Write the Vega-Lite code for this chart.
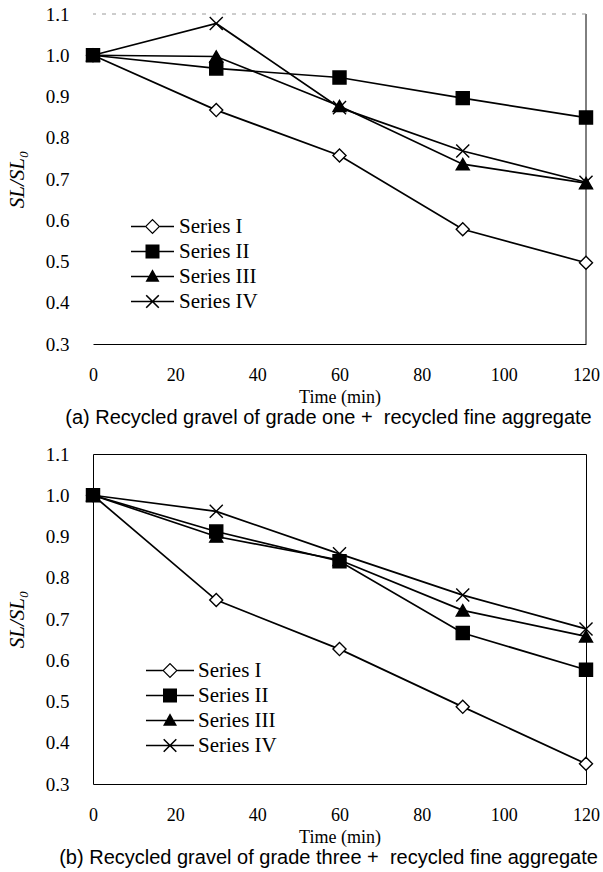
{
  "$schema": "https://vega.github.io/schema/vega-lite/v6.json",
  "background": "white",
  "padding": {"left": 5, "top": 5, "right": 5, "bottom": 5},
  "bounds": "flush",
  "spacing": 110,
  "datasets": {
    "a": [
      {"t": 0, "v": 1.0, "series": "Series I"},
      {"t": 30, "v": 0.867, "series": "Series I"},
      {"t": 60, "v": 0.757, "series": "Series I"},
      {"t": 90, "v": 0.578, "series": "Series I"},
      {"t": 120, "v": 0.497, "series": "Series I"},
      {"t": 0, "v": 1.0, "series": "Series II"},
      {"t": 30, "v": 0.968, "series": "Series II"},
      {"t": 60, "v": 0.946, "series": "Series II"},
      {"t": 90, "v": 0.896, "series": "Series II"},
      {"t": 120, "v": 0.849, "series": "Series II"},
      {"t": 0, "v": 1.0, "series": "Series III"},
      {"t": 30, "v": 0.997, "series": "Series III"},
      {"t": 60, "v": 0.877, "series": "Series III"},
      {"t": 90, "v": 0.736, "series": "Series III"},
      {"t": 120, "v": 0.69, "series": "Series III"},
      {"t": 0, "v": 1.0, "series": "Series IV"},
      {"t": 30, "v": 1.077, "series": "Series IV"},
      {"t": 60, "v": 0.873, "series": "Series IV"},
      {"t": 90, "v": 0.768, "series": "Series IV"},
      {"t": 120, "v": 0.692, "series": "Series IV"}
    ],
    "b": [
      {"t": 0, "v": 1.0, "series": "Series I"},
      {"t": 30, "v": 0.746, "series": "Series I"},
      {"t": 60, "v": 0.627, "series": "Series I"},
      {"t": 90, "v": 0.487, "series": "Series I"},
      {"t": 120, "v": 0.349, "series": "Series I"},
      {"t": 0, "v": 1.0, "series": "Series II"},
      {"t": 30, "v": 0.912, "series": "Series II"},
      {"t": 60, "v": 0.84, "series": "Series II"},
      {"t": 90, "v": 0.666, "series": "Series II"},
      {"t": 120, "v": 0.577, "series": "Series II"},
      {"t": 0, "v": 1.0, "series": "Series III"},
      {"t": 30, "v": 0.9, "series": "Series III"},
      {"t": 60, "v": 0.843, "series": "Series III"},
      {"t": 90, "v": 0.721, "series": "Series III"},
      {"t": 120, "v": 0.658, "series": "Series III"},
      {"t": 0, "v": 1.0, "series": "Series IV"},
      {"t": 30, "v": 0.961, "series": "Series IV"},
      {"t": 60, "v": 0.858, "series": "Series IV"},
      {"t": 90, "v": 0.758, "series": "Series IV"},
      {"t": 120, "v": 0.676, "series": "Series IV"}
    ]
  },
  "vconcat": [
    {
      "width": 493,
      "height": 330,
      "view": {"stroke": null},
      "title": {"text": "(a) Recycled gravel of grade one +\u00a0 recycled fine aggregate", "orient": "bottom", "font": "Liberation Sans", "fontSize": 20, "fontWeight": "normal", "color": "black", "offset": 2, "anchor": "middle", "dx": -11},
      "resolve": {"scale": {"shape": "independent", "fill": "independent"}, "legend": {"shape": "independent", "fill": "independent"}},
      "layer": [
        {
          "data": {"values": [{}]},
          "mark": {"type": "rule", "color": "black", "strokeWidth": 1},
          "encoding": {"x": {"datum": 120, "type": "quantitative"}}
        },
        {
          "data": {"values": [{}]},
          "mark": {"type": "rule", "color": "#9a9a9a", "strokeWidth": 1, "strokeDash": [4, 6]},
          "encoding": {"y": {"datum": 1.1, "type": "quantitative"}}
        },
        {
          "data": {"name": "a"},
          "mark": {"type": "line", "color": "black", "strokeWidth": 1.7},
          "encoding": {
            "x": {"field": "t", "type": "quantitative", "scale": {"domain": [0, 120], "nice": false},
              "axis": {"title": "Time (min)", "values": [0, 20, 40, 60, 80, 100, 120], "domain": true, "domainColor": "black", "domainWidth": 1.2}},
            "y": {"field": "v", "type": "quantitative", "scale": {"domain": [0.3, 1.1], "nice": false, "zero": false},
              "axis": {"title": "SL/SL₀", "values": [0.3, 0.4, 0.5, 0.6, 0.7, 0.8, 0.9, 1.0, 1.1], "format": ".1f"}},
            "detail": {"field": "series"}
          }
        },
        {
          "data": {"name": "a"},
          "mark": {"type": "point", "filled": true, "stroke": "black", "strokeWidth": 1.4, "opacity": 1, "size": 170},
          "encoding": {
            "x": {"field": "t", "type": "quantitative"},
            "y": {"field": "v", "type": "quantitative"},
            "shape": {"field": "series", "type": "nominal",
              "scale": {"domain": ["Series I", "Series II", "Series III", "Series IV"], "range": ["diamond", "square", "triangle-up", "M-1,-1L1,1M1,-1L-1,1"]},
              "legend": null},
            "fill": {"field": "series", "type": "nominal",
              "scale": {"domain": ["Series I", "Series II", "Series III", "Series IV"], "range": ["white", "black", "black", "black"]},
              "legend": null}
          }
        },
        {
          "data": {"name": "a"},
          "transform": [{"filter": "false"}],
          "mark": {"type": "point", "filled": true, "color": "black", "opacity": 1},
          "encoding": {
            "shape": {"field": "series", "type": "nominal",
              "scale": {"domain": ["Series I", "Series II", "Series III", "Series IV"],
                "range": [
                  "M-3.07,-0.12L-1.05,-0.12L-1.05,0.12L-3.07,0.12Z M1.05,-0.12L3.07,-0.12L3.07,0.12L1.05,0.12Z M0,-1.1L1.1,0L0,1.1L-1.1,0Z M0,-0.86L-0.86,0L0,0.86L0.86,0Z",
                  "M-3.07,-0.12L3.07,-0.12L3.07,0.12L-3.07,0.12Z M-1,-1L1,-1L1,1L-1,1Z",
                  "M-3.07,-0.12L3.07,-0.12L3.07,0.12L-3.07,0.12Z M0,-1.05L1,0.75L-1,0.75Z",
                  "M-3.07,-0.12L3.07,-0.12L3.07,0.12L-3.07,0.12Z M-0.98,-0.82L-0.82,-0.98L0.98,0.82L0.82,0.98Z M0.82,-0.98L0.98,-0.82L-0.82,0.98L-0.98,0.82Z"
                ]},
              "legend": {"orient": "none", "legendX": 37, "legendY": 202, "title": null, "symbolSize": 196, "symbolOffset": 12, "labelOffset": 16, "rowPadding": 3, "symbolStrokeWidth": 0}}
          }
        }
      ]
    },
    {
      "width": 493,
      "height": 330,
      "view": {"stroke": "black", "strokeWidth": 1},
      "title": {"text": "(b) Recycled gravel of grade three +\u00a0 recycled fine aggregate", "orient": "bottom", "font": "Liberation Sans", "fontSize": 20, "fontWeight": "normal", "color": "black", "offset": 2, "anchor": "middle", "dx": -11},
      "resolve": {"scale": {"shape": "independent", "fill": "independent"}, "legend": {"shape": "independent", "fill": "independent"}},
      "layer": [
        {
          "data": {"name": "b"},
          "mark": {"type": "line", "color": "black", "strokeWidth": 1.7},
          "encoding": {
            "x": {"field": "t", "type": "quantitative", "scale": {"domain": [0, 120], "nice": false},
              "axis": {"title": "Time (min)", "values": [0, 20, 40, 60, 80, 100, 120]}},
            "y": {"field": "v", "type": "quantitative", "scale": {"domain": [0.3, 1.1], "nice": false, "zero": false},
              "axis": {"title": "SL/SL₀", "values": [0.3, 0.4, 0.5, 0.6, 0.7, 0.8, 0.9, 1.0, 1.1], "format": ".1f"}},
            "detail": {"field": "series"}
          }
        },
        {
          "data": {"name": "b"},
          "mark": {"type": "point", "filled": true, "stroke": "black", "strokeWidth": 1.4, "opacity": 1, "size": 170},
          "encoding": {
            "x": {"field": "t", "type": "quantitative"},
            "y": {"field": "v", "type": "quantitative"},
            "shape": {"field": "series", "type": "nominal",
              "scale": {"domain": ["Series I", "Series II", "Series III", "Series IV"], "range": ["diamond", "square", "triangle-up", "M-1,-1L1,1M1,-1L-1,1"]},
              "legend": null},
            "fill": {"field": "series", "type": "nominal",
              "scale": {"domain": ["Series I", "Series II", "Series III", "Series IV"], "range": ["white", "black", "black", "black"]},
              "legend": null}
          }
        },
        {
          "data": {"name": "b"},
          "transform": [{"filter": "false"}],
          "mark": {"type": "point", "filled": true, "color": "black", "opacity": 1},
          "encoding": {
            "shape": {"field": "series", "type": "nominal",
              "scale": {"domain": ["Series I", "Series II", "Series III", "Series IV"],
                "range": [
                  "M-3.43,-0.12L-1.05,-0.12L-1.05,0.12L-3.43,0.12Z M1.05,-0.12L3.43,-0.12L3.43,0.12L1.05,0.12Z M0,-1.1L1.1,0L0,1.1L-1.1,0Z M0,-0.86L-0.86,0L0,0.86L0.86,0Z",
                  "M-3.43,-0.12L3.43,-0.12L3.43,0.12L-3.43,0.12Z M-1,-1L1,-1L1,1L-1,1Z",
                  "M-3.43,-0.12L3.43,-0.12L3.43,0.12L-3.43,0.12Z M0,-1.05L1,0.75L-1,0.75Z",
                  "M-3.43,-0.12L3.43,-0.12L3.43,0.12L-3.43,0.12Z M-0.98,-0.82L-0.82,-0.98L0.98,0.82L0.82,0.98Z M0.82,-0.98L0.98,-0.82L-0.82,0.98L-0.98,0.82Z"
                ]},
              "legend": {"orient": "none", "legendX": 52, "legendY": 206, "title": null, "symbolSize": 196, "symbolOffset": 14.5, "labelOffset": 17.5, "rowPadding": 3, "symbolStrokeWidth": 0}}
          }
        }
      ]
    }
  ],
  "resolve": {"scale": {"shape": "independent", "fill": "independent"}, "legend": {"shape": "independent", "fill": "independent"}},
  "config": {
    "font": "Liberation Serif",
    "axis": {
      "ticks": false, "domain": false, "grid": false,
      "labelFont": "Liberation Serif", "labelFontSize": 18, "labelColor": "black",
      "labelFlush": false, "labelOverlap": false,
      "titleFont": "Liberation Serif", "titleFontSize": 18, "titleFontWeight": "normal", "titleColor": "black"
    },
    "axisX": {"labelPadding": 22, "titlePadding": 4},
    "axisY": {"labelPadding": 24, "labelFontSize": 19, "titlePadding": 18, "titleFontStyle": "italic", "titleFontSize": 21},
    "legend": {"labelFont": "Liberation Serif", "labelFontSize": 21, "labelColor": "black"}
  }
}
